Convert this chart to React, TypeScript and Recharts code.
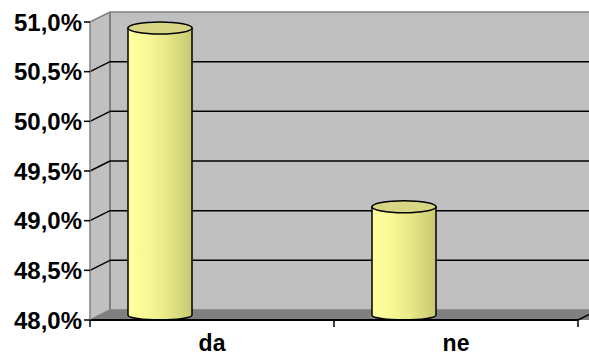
import { Bar, BarChart, CartesianGrid, XAxis, YAxis } from 'recharts';

const categories = ['da', 'ne'];
const shares = [50.9, 49.1];
const yTicks = [48, 48.5, 49, 49.5, 50, 50.5, 51];

const data = categories.map((name, i) => ({ name, share: shares[i] }));

// plot frame (front plane) and the 3D depth offset
const W = 589;
const H = 356;
const L = 90;
const T = 22;
const R = 578;
const B = 320;
const DX = 20;
const DY = 10;
const FONT = '"Liberation Sans", Arial, sans-serif';

const fmtPct = (v: number) => `${v.toFixed(1).replace('.', ',')}%`;

const WallLine = (props: any) => {
  const { x1, y1 } = props;
  const edge = y1 <= T + 1 || y1 >= B - 1;
  const stroke = edge ? '#808080' : '#000';
  return (
    <g>
      <line x1={x1} y1={y1} x2={x1 + DX} y2={y1 - DY} stroke={stroke} strokeWidth={1.5} />
      <line x1={x1 + DX} y1={y1 - DY} x2={W} y2={y1 - DY} stroke={stroke} strokeWidth={1.5} />
    </g>
  );
};

const Cylinder = (props: any) => {
  const { x, y, width, height } = props;
  const rx = width / 2;
  const cx = x + rx - 52;
  const top = y - 4;
  const bot = y + height - 5;
  const l = cx - rx;
  const r = cx + rx;
  return (
    <g>
      <path
        d={`M${l},${top} L${l},${bot} A${rx},5 0 0 0 ${r},${bot} L${r},${top} Z`}
        fill='url(#cyl)'
        stroke='#000'
        strokeWidth={1.5}
      />
      <ellipse cx={cx} cy={top} rx={rx} ry={6} fill='#d6d684' stroke='#000' strokeWidth={1.5} />
    </g>
  );
};

const CategoryTick = (props: any) => {
  const { x, y, payload, index } = props;
  const half = (R - L) / categories.length / 2;
  return (
    <g>
      <line x1={x - half} y1={B} x2={x - half} y2={B + 7} stroke='#000' strokeWidth={1.5} />
      {index === categories.length - 1 && (
        <g>
          <line x1={x + half} y1={B} x2={x + half} y2={B + 7} stroke='#000' strokeWidth={1.5} />
          <line x1={x + half} y1={B} x2={x + half + DX} y2={B - DY} stroke='#000' strokeWidth={1.5} />
        </g>
      )}
      <text
        x={x}
        y={y + 23}
        textAnchor='middle'
        fontFamily={FONT}
        fontWeight='bold'
        fontSize={23}
        fill='#000'
      >
        {payload.value}
      </text>
    </g>
  );
};

const Walls = () => (
  <svg width={W} height={H} style={{ position: 'absolute', left: 0, top: 0 }}>
    <polygon points={`${L + DX},${T - DY} ${W + 20},${T - DY} ${W + 20},${B - DY} ${L + DX},${B - DY}`} fill='#c0c0c0' />
    <polygon points={`${L},${T} ${L + DX},${T - DY} ${L + DX},${B - DY} ${L},${B}`} fill='#c0c0c0' />
    <polygon points={`${L},${B} ${L + DX},${B - DY} ${W + 20},${B - DY} ${R + DX},${B}`} fill='#808080' />
    <line x1={L + DX} y1={T - DY} x2={L + DX} y2={B - DY} stroke='#808080' strokeWidth={2} />
  </svg>
);

export default function App() {
  return (
    <div style={{ position: 'absolute', left: 0, top: 0, width: W, height: H, background: '#fff' }}>
      <Walls />
      <div style={{ position: 'absolute', left: 0, top: 0 }}>
        <BarChart
          width={W}
          height={H}
          data={data}
          margin={{ top: T, right: W - R, bottom: 0, left: 0 }}
          barSize={64}
        >
          <defs>
            <linearGradient id='cyl' x1='0' y1='0' x2='1' y2='0'>
              <stop offset='0%' stopColor='#ffffa0' />
              <stop offset='30%' stopColor='#f8f896' />
              <stop offset='60%' stopColor='#e8e888' />
              <stop offset='85%' stopColor='#d4d47a' />
              <stop offset='100%' stopColor='#c8c872' />
            </linearGradient>
          </defs>
          <CartesianGrid vertical={false} horizontal={WallLine} />
          <XAxis
            dataKey='name'
            height={H - B}
            axisLine={{ stroke: '#000', strokeWidth: 2 }}
            tickLine={false}
            tick={CategoryTick}
            interval={0}
          />
          <YAxis
            width={L}
            domain={[48, 51]}
            ticks={yTicks}
            tickFormatter={fmtPct}
            axisLine={{ stroke: '#808080', strokeWidth: 1.5 }}
            tickLine={{ stroke: '#000', strokeWidth: 1.5 }}
            tickSize={6}
            tick={{ fill: '#000', fontFamily: FONT, fontWeight: 'bold', fontSize: 24 }}
          />
          <Bar dataKey='share' shape={Cylinder} isAnimationActive={false} />
        </BarChart>
      </div>
    </div>
  );
}
